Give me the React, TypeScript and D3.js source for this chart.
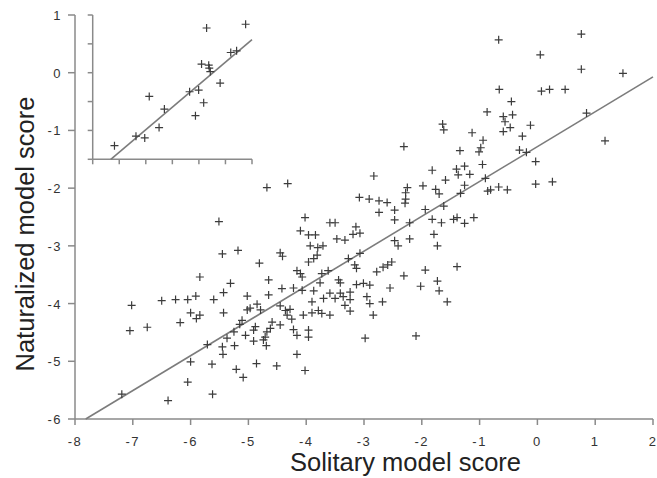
import React from "react";
import * as d3 from "d3";

// Main scatter: solitary model score (x) vs naturalized model score (y)
const solitaryScores = [
  -0.67, 0.76, 0.05, 0.76, 1.48, -0.66, 0.07, 0.21, 0.48, -0.45,
  -0.87, -0.59, -0.43, -0.56, -0.47, -0.59, -0.12, -0.26, 0.85, -1.64,
  -1.62, -1.13, 1.17, -0.94, -0.98, -1.01, -2.31, -1.34, -0.31, -0.19,
  -0.03, -1.82, -1.4, -1.26, -1.17, -1.37, -0.95, -2.83, -1.59, -0.9,
  -0.03, 0.26, -2.25, -2.28, -1.98, -1.76, -1.7, -1.26, -1.33, -0.86,
  -0.81, -0.67, -0.52, -3.08, -2.91, -2.74, -2.6, -2.28, -2.29, -1.62,
  -1.94, -2.74, -2.47, -2.47, -4.02, -3.59, -3.5, -3.14, -2.21, -1.82,
  -1.66, -1.45, -1.39, -1.26, -1.1, -3.19, -3.07, -3.96, -3.84, -3.47,
  -3.33, -2.47, -2.41, -2.21, -1.79, -1.73, -3.93, -3.8, -3.71, -4.1,
  -2.52, -2.59, -2.67, -2.78, -1.94, -1.39, -2.31, -2.55, -2.02, -1.73,
  -1.7, -2.68, -1.56, -2.1,
  -4.45, -4.41, -3.96, -3.87, -3.81, -3.27, -3.07, -3.16, -3.13, -4.16,
  -4.1, -4.07, -3.73, -3.62, -4.65, -3.76, -3.44, -3.41, -3.13, -3.01,
  -2.9, -4.22, -4.07, -4.42, -3.87, -4.65, -3.59, -3.41, -3.5, -3.36,
  -3.24, -3.24, -3.7, -2.95, -2.9, -3.9, -3.33, -3.24, -4.45, -4.36,
  -4.28, -4.33, -4.25, -4.79, -4.05, -3.9, -3.79, -3.73, -3.59, -2.84,
  -4.59, -4.62, -4.68, -4.71, -4.74, -4.22, -4.16, -3.96, -3.96, -2.98,
  -4.45,
  -4.68, -4.32, -5.51, -5.45, -5.18, -4.81, -5.84, -5.31, -5.43, -5.02,
  -7.02, -6.5, -6.26, -6.05, -5.91, -5.6, -6.0, -5.84, -5.9, -5.43,
  -6.18, -7.05, -6.75, -5.02, -4.97, -4.85, -5.11, -5.15, -5.25, -5.05,
  -4.91, -4.88, -5.37, -5.71, -5.45, -5.44, -5.24, -4.91, -4.69, -6.0,
  -5.63, -4.86, -4.51, -4.16, -4.02, -5.21, -5.09, -6.05, -7.19, -5.62,
  -6.39,
];

const naturalizedScores = [
  0.57, 0.67, 0.31, 0.06, -0.01, -0.29, -0.32, -0.29, -0.29, -0.5,
  -0.68, -0.76, -0.73, -0.85, -0.95, -1.02, -0.91, -1.1, -0.7, -0.89,
  -0.99, -1.04, -1.18, -1.17, -1.3, -1.37, -1.28, -1.35, -1.34, -1.38,
  -1.54, -1.69, -1.67, -1.62, -1.76, -1.77, -1.59, -1.79, -1.86, -1.83,
  -1.93, -1.89, -1.99, -2.08, -1.96, -2.02, -2.1, -1.95, -2.09, -2.05,
  -2.03, -1.98, -2.03, -2.16, -2.19, -2.22, -2.25, -2.19, -2.26, -2.31,
  -2.37, -2.42, -2.38, -2.55, -2.51, -2.6, -2.6, -2.67, -2.6, -2.54,
  -2.6, -2.54, -2.51, -2.61, -2.51, -2.8, -2.78, -2.81, -2.81, -2.88,
  -2.9, -2.91, -3.0, -2.88, -2.8, -3.0, -3.0, -3.03, -3.0, -2.74,
  -3.28, -3.33, -3.37, -3.45, -3.42, -3.36, -3.52, -3.73, -3.7, -3.61,
  -3.78, -3.97, -3.97, -4.56,
  -3.12, -3.18, -3.28, -3.22, -3.16, -3.22, -3.13, -3.33, -3.39, -3.43,
  -3.48, -3.54, -3.48, -3.43, -3.59, -3.64, -3.59, -3.64, -3.67, -3.65,
  -3.68, -3.73, -3.77, -3.74, -3.78, -3.85, -3.82, -3.82, -3.91, -3.88,
  -3.8, -3.93, -3.91, -3.88, -4.0, -3.97, -4.03, -4.13, -4.04, -4.12,
  -4.1, -4.2, -4.27, -4.11, -4.2, -4.16, -4.12, -4.17, -4.2, -4.2,
  -4.32, -4.43, -4.49, -4.58, -4.63, -4.45, -4.55, -4.46, -4.58, -4.6,
  -4.37,
  -1.99, -1.92, -2.58, -3.14, -3.08, -3.3, -3.54, -3.65, -3.81, -3.87,
  -4.03, -3.95, -3.93, -3.93, -3.87, -3.93, -4.16, -4.2, -4.26, -4.16,
  -4.33, -4.47, -4.41, -4.11, -4.08, -4.01, -4.29, -4.36, -4.49, -4.55,
  -4.46, -4.4, -4.6, -4.71, -4.75, -4.88, -4.73, -4.65, -4.73, -5.01,
  -5.05, -5.04, -5.08, -4.88, -5.16, -5.14, -5.28, -5.36, -5.57, -5.57,
  -5.68,
];

// Inset scatter (unlabelled x axis, shares y scale of the main plot)
const insetSolitary = [0.82, 1.63, 1.96, 2.13, 2.5, 2.7, 3.65, 3.87, 3.99, 4.1, 4.18, 4.29, 4.37, 4.39, 4.43, 4.8, 5.2, 5.42, 5.76];
const insetNaturalized = [-1.265, -1.1, -1.13, -0.41, -0.95, -0.63, -0.33, -0.745, -0.3, 0.15, -0.52, 0.775, 0.13, 0.08, 0.02, -0.18, 0.35, 0.38, 0.84];

const xTickValues = [-8, -7, -6, -5, -4, -3, -2, -1, 0, 1, 2];
const yTickValues = [1, 0, -1, -2, -3, -4, -5, -6];
const insetXTicks = [0, 1, 2, 3, 4, 5, 6];
const insetYTicks = [1, 0.5, 0, -0.5, -1, -1.5];

const mainFit = { slope: 0.604, intercept: -1.28 };
const insetFit = { slope: 0.39, intercept: -1.766 };

const xTitle = "Solitary model score";
const yTitle = "Naturalized model score";

export default function App() {
  const W = 657;
  const H = 478;
  const x = d3.scaleLinear().domain([-8, 2]).range([75, 653]);
  const y = d3.scaleLinear().domain([-6, 1]).range([419, 15]);
  const ix = d3.scaleLinear().domain([0, 6]).range([92.7, 252]);
  const iy = d3.scaleLinear().domain([-1.5, 1]).range([y(-1.5), y(1)]);

  const axisColor = "#8a8a8a";
  const markColor = "#3c3c3c";
  const lineColor = "#7c7c7c";
  const font = "'Liberation Sans', Arial, Helvetica, sans-serif";

  const line = d3.line<[number, number]>();
  const mainStart = (-6 - mainFit.intercept) / mainFit.slope;
  const mainLine = line([
    [x(mainStart), y(-6)],
    [x(2), y(mainFit.intercept + mainFit.slope * 2)],
  ]);
  const insetStart = (-1.5 - insetFit.intercept) / insetFit.slope;
  const insetLine = line([
    [ix(insetStart), iy(-1.5)],
    [ix(6), iy(insetFit.intercept + insetFit.slope * 6)],
  ]);

  const plus = "M-4,0H4M0,-4V4";
  const fmt = (t: number) => (t < 0 ? "-" + Math.abs(t) : String(t));

  return (
    <svg
      width={W}
      height={H}
      style={{ position: "fixed", left: 0, top: 0, background: "#fff" }}
      fontFamily={font}
    >
      <rect x={0} y={0} width={W} height={H} fill="#fff" />
      {/* main axes */}
      <line x1={x(-8)} x2={x(-8)} y1={y(1)} y2={y(-6)} stroke={axisColor} strokeWidth={1.5} />
      <line x1={x(-8)} x2={x(2)} y1={y(-6)} y2={y(-6)} stroke={axisColor} strokeWidth={1.5} />
      {xTickValues.map((t) => (
        <g key={"xt" + t}>
          <line x1={x(t)} x2={x(t)} y1={y(-6)} y2={y(-6) + 6} stroke={axisColor} strokeWidth={1.5} />
          <text x={x(t)} y={y(-6) + 27} textAnchor="middle" fontSize={13} fill="#333" letterSpacing={1.5}>
            {fmt(t)}
          </text>
        </g>
      ))}
      {yTickValues.map((t) => (
        <g key={"yt" + t}>
          <line x1={x(-8) - 7} x2={x(-8)} y1={y(t)} y2={y(t)} stroke={axisColor} strokeWidth={1.5} />
          <text x={x(-8) - 13} y={y(t) + 5} textAnchor="end" fontSize={13} fill="#333" letterSpacing={1.5}>
            {fmt(t)}
          </text>
        </g>
      ))}

      {/* inset axes */}
      <line x1={ix(0)} x2={ix(0)} y1={iy(1)} y2={iy(-1.5)} stroke={axisColor} strokeWidth={1.5} />
      <line x1={ix(0)} x2={ix(6)} y1={iy(-1.5)} y2={iy(-1.5)} stroke={axisColor} strokeWidth={1.5} />
      {insetXTicks.map((t) => (
        <line key={"ixt" + t} x1={ix(t)} x2={ix(t)} y1={iy(-1.5)} y2={iy(-1.5) + 5} stroke={axisColor} strokeWidth={1.5} />
      ))}
      {insetYTicks.map((t) => (
        <line key={"iyt" + t} x1={ix(0) - 5} x2={ix(0)} y1={iy(t)} y2={iy(t)} stroke={axisColor} strokeWidth={1.5} />
      ))}

      {/* regression lines */}
      <path d={mainLine || ""} stroke={lineColor} strokeWidth={1.6} fill="none" />
      <path d={insetLine || ""} stroke={lineColor} strokeWidth={1.6} fill="none" />

      {/* points */}
      {solitaryScores.map((sx, i) => (
        <path
          key={"p" + i}
          d={plus}
          transform={`translate(${x(sx)},${y(naturalizedScores[i])})`}
          stroke={markColor}
          strokeWidth={1.2}
          fill="none"
        />
      ))}
      {insetSolitary.map((sx, i) => (
        <path
          key={"ip" + i}
          d={plus}
          transform={`translate(${ix(sx)},${iy(insetNaturalized[i])})`}
          stroke={markColor}
          strokeWidth={1.2}
          fill="none"
        />
      ))}

      {/* titles */}
      <text x={405.5} y={471} textAnchor="middle" fontSize={25.5} fill="#222">
        {xTitle}
      </text>
      <text transform={`translate(34,234) rotate(-90)`} textAnchor="middle" fontSize={25.5} fill="#222">
        {yTitle}
      </text>
    </svg>
  );
}
